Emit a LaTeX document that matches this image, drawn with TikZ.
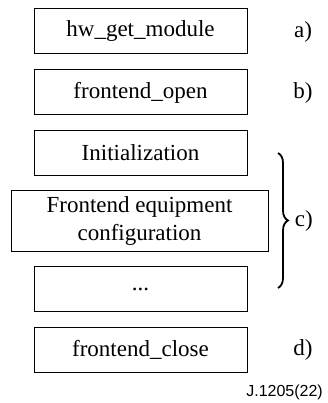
\documentclass[tikz,border=0pt]{standalone}
\usepackage{fontspec}
\setmainfont{Liberation Serif}
\newfontfamily\labelsans{Liberation Sans}
\usetikzlibrary{decorations.pathreplacing}
\begin{document}
\begin{tikzpicture}[x=1pt,y=1pt,
  stepbox/.style={draw,line width=1pt,minimum width=213pt,minimum height=45pt,
    inner sep=0pt,align=center,font=\fontsize{23}{28}\selectfont},
  tag/.style={font=\fontsize{23}{28}\selectfont,inner sep=0pt}]
\useasboundingbox (0,0) rectangle (327,403);
% stacked call sequence
\node[stepbox] (get)   at (140.5,371.5) {hw\_get\_module};
\node[stepbox] (open)  at (140.5,310.5) {frontend\_open};
\node[stepbox] (init)  at (140.5,250)   {Initialization};
\node[stepbox,minimum width=257pt,minimum height=61pt] (conf) at (139.5,181.5)
  {Frontend equipment\\configuration};
\node[stepbox] (more)  at (140.5,113.5) {...};
\node[stepbox] (close) at (140.5,53)    {frontend\_close};
% step labels
\node[tag] (la) at (303,371.5) {a)};
\node[tag] (lb) at (303,310.5) {b)};
\node[tag] (ld) at (303,53)    {d)};
% brace grouping the configuration steps
\coordinate (btop) at (278,250);
\coordinate (bbot) at (278,115);
\draw[line width=1.8pt,decorate,decoration={brace,amplitude=10pt}] (btop) -- (bbot)
  node[midway,right=16pt,tag] (lc) {c)};
% figure reference
\node[font=\labelsans\fontsize{16}{18}\selectfont,anchor=base east,inner sep=0pt]
  (ref) at (323,6) {J.1205(22)};
\end{tikzpicture}
\end{document}
